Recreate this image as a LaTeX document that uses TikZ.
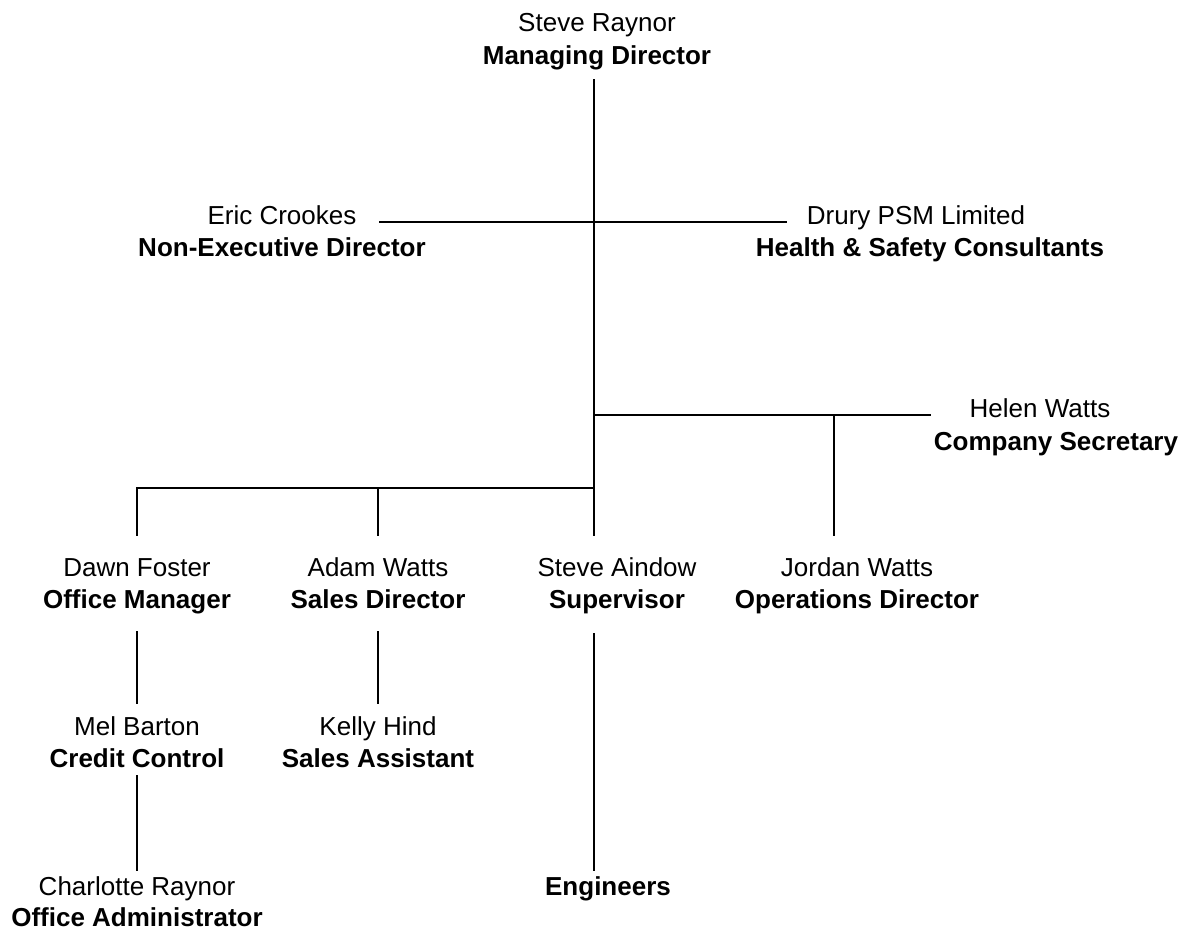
\documentclass[tikz,border=0pt]{standalone}
\usepackage{fontspec}
\setmainfont{Liberation Sans}
\begin{document}
\begin{tikzpicture}[x=1pt,y=-1pt,
  nm/.style={anchor=base,inner sep=0pt,font=\fontsize{26}{30}\selectfont},
  tt/.style={anchor=base,inner sep=0pt,font=\fontsize{26}{30}\selectfont\bfseries},
  ln/.style={line width=1.6pt,line cap=rect}]
\useasboundingbox (0,0) rectangle (1189,931);
% texts
\node[nm] (sr1) at (597,32) {Steve Raynor};
\node[tt] (sr2) at (597,65) {Managing Director};
\node[nm] (ec1) at (282,224) {Eric Crookes};
\node[tt] (ec2) at (282,256) {Non-Executive Director};
\node[nm] (dp1) at (916,224) {Drury PSM Limited};
\node[tt] (dp2) at (930,256) {Health \& Safety Consultants};
\node[nm] (hw1) at (1040,417) {Helen Watts};
\node[tt] (hw2) at (1056,450) {Company Secretary};
\node[nm] (df1) at (137,576) {Dawn Foster};
\node[tt] (df2) at (137,608) {Office Manager};
\node[nm] (aw1) at (378,576) {Adam Watts};
\node[tt] (aw2) at (378,608) {Sales Director};
\node[nm] (sa1) at (617,576) {Steve Aindow};
\node[tt] (sa2) at (617,608) {Supervisor};
\node[nm] (jw1) at (857,576) {Jordan Watts};
\node[tt] (jw2) at (857,608) {Operations Director};
\node[nm] (mb1) at (137,735) {Mel Barton};
\node[tt] (mb2) at (137,767) {Credit Control};
\node[nm] (kh1) at (378,735) {Kelly Hind};
\node[tt] (kh2) at (378,767) {Sales Assistant};
\node[nm] (cr1) at (137,895) {Charlotte Raynor};
\node[tt] (cr2) at (137,926) {Office Administrator};
\node[tt] (en) at (608,895) {Engineers};
% junction coordinates
\coordinate (top) at (594,80);
\coordinate (j1) at (594,222);
\coordinate (ecE) at (380,222);
\coordinate (dpW) at (786,222);
\coordinate (j2) at (594,415);
\coordinate (hwW) at (930,415);
\coordinate (j3) at (834,415);
\coordinate (jwT) at (834,535);
\coordinate (j4) at (594,488);
\coordinate (saT) at (594,535);
\coordinate (dfJ) at (137,488);
\coordinate (dfT) at (137,535);
\coordinate (awJ) at (378,488);
\coordinate (awT) at (378,535);
\coordinate (dfB) at (137,632);
\coordinate (mbT) at (137,703);
\coordinate (awB) at (378,632);
\coordinate (khT) at (378,703);
\coordinate (mbB) at (137,776);
\coordinate (crT) at (137,870);
\coordinate (saB) at (594,634);
\coordinate (enT) at (594,870);
% connectors
\draw[ln] (top) -- (saT);
\draw[ln] (ecE) -- (dpW);
\draw[ln] (j2) -- (hwW);
\draw[ln] (j3) -- (jwT);
\draw[ln] (dfT) -- (dfJ) -- (j4);
\draw[ln] (awJ) -- (awT);
\draw[ln] (dfB) -- (mbT);
\draw[ln] (awB) -- (khT);
\draw[ln] (mbB) -- (crT);
\draw[ln] (saB) -- (enT);
\end{tikzpicture}
\end{document}
